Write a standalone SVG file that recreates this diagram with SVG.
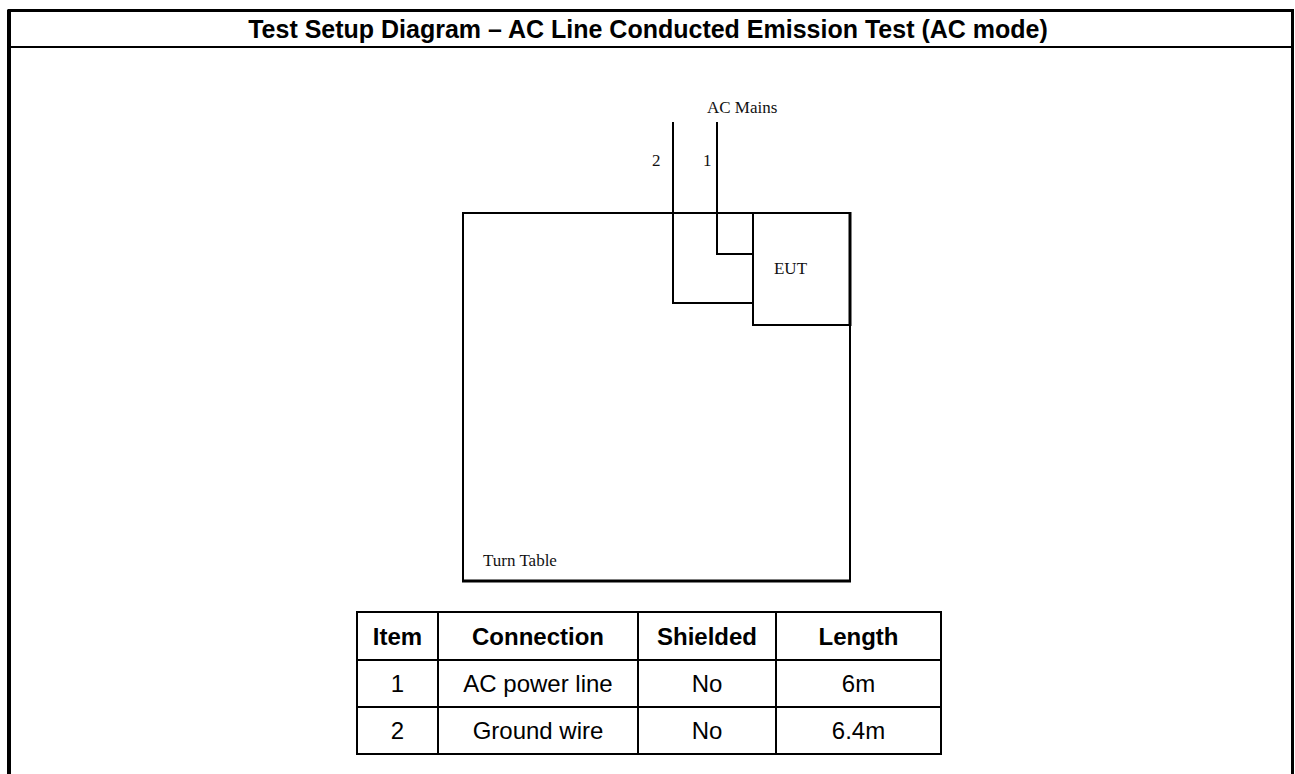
<svg xmlns="http://www.w3.org/2000/svg" width="1295" height="774" viewBox="0 0 1295 774">
<style>
.frame{fill:none;stroke:#000}
.title{font-family:"Liberation Sans",Arial,sans-serif;font-weight:bold;font-size:25px;text-anchor:middle}
.serif{font-family:"Liberation Serif","Times New Roman",serif;font-size:17px;fill:#111}
.wire{fill:none;stroke:#000;stroke-width:2}
.box{fill:none;stroke:#000;stroke-width:2}
.th{font-family:"Liberation Sans",Arial,sans-serif;font-weight:bold;font-size:24px;text-anchor:middle}
.td{font-family:"Liberation Sans",Arial,sans-serif;font-size:24px;text-anchor:middle}
.tl{stroke:#000;stroke-width:2;fill:none}
</style>
<rect width="1295" height="774" fill="#fff"/>
<g id="frame">
<path d="M9,776 V10.5 H1292.5 V776" class="frame" stroke-width="3"/>
<line x1="9" y1="47" x2="1292" y2="47" stroke="#000" stroke-width="2"/>
<line x1="9" y1="10" x2="9" y2="776" stroke="#000" stroke-width="4"/>
</g>
<text class="title" x="648" y="38">Test Setup Diagram – AC Line Conducted Emission Test (AC mode)</text>
<g id="turntable">
<rect class="box" x="463" y="213" width="387" height="368"/>
<line x1="462" y1="581" x2="851" y2="581" stroke="#000" stroke-width="3"/>
<text class="serif" x="483" y="566">Turn Table</text>
</g>
<g id="eut">
<rect class="box" x="753" y="213" width="97" height="112"/>
<line x1="850" y1="212" x2="850" y2="326" stroke="#000" stroke-width="3"/>
<text class="serif" x="790.5" y="274" text-anchor="middle">EUT</text>
</g>
<g id="acmains">
<text class="serif" x="707" y="113">AC Mains</text>
</g>
<g id="connectors">
<polyline class="wire" points="673,122 673,303 753,303"/>
<polyline class="wire" points="717,122 717,254 753,254"/>
<text class="serif" x="652" y="166">2</text>
<text class="serif" x="703" y="166">1</text>
</g>
<g id="table">
<rect class="tl" x="357" y="612" width="584" height="142"/>
<line class="tl" x1="357" y1="660" x2="941" y2="660"/>
<line class="tl" x1="357" y1="707" x2="941" y2="707"/>
<line class="tl" x1="438" y1="612" x2="438" y2="754"/>
<line class="tl" x1="638" y1="612" x2="638" y2="754"/>
<line class="tl" x1="776" y1="612" x2="776" y2="754"/>
<text class="th" x="397.5" y="645">Item</text>
<text class="th" x="538" y="645">Connection</text>
<text class="th" x="707" y="645">Shielded</text>
<text class="th" x="858.5" y="645">Length</text>
<text class="td" x="397.5" y="692">1</text>
<text class="td" x="538" y="692">AC power line</text>
<text class="td" x="707" y="692">No</text>
<text class="td" x="858.5" y="692">6m</text>
<text class="td" x="397.5" y="739">2</text>
<text class="td" x="538" y="739">Ground wire</text>
<text class="td" x="707" y="739">No</text>
<text class="td" x="858.5" y="739">6.4m</text>
</g>
</svg>
